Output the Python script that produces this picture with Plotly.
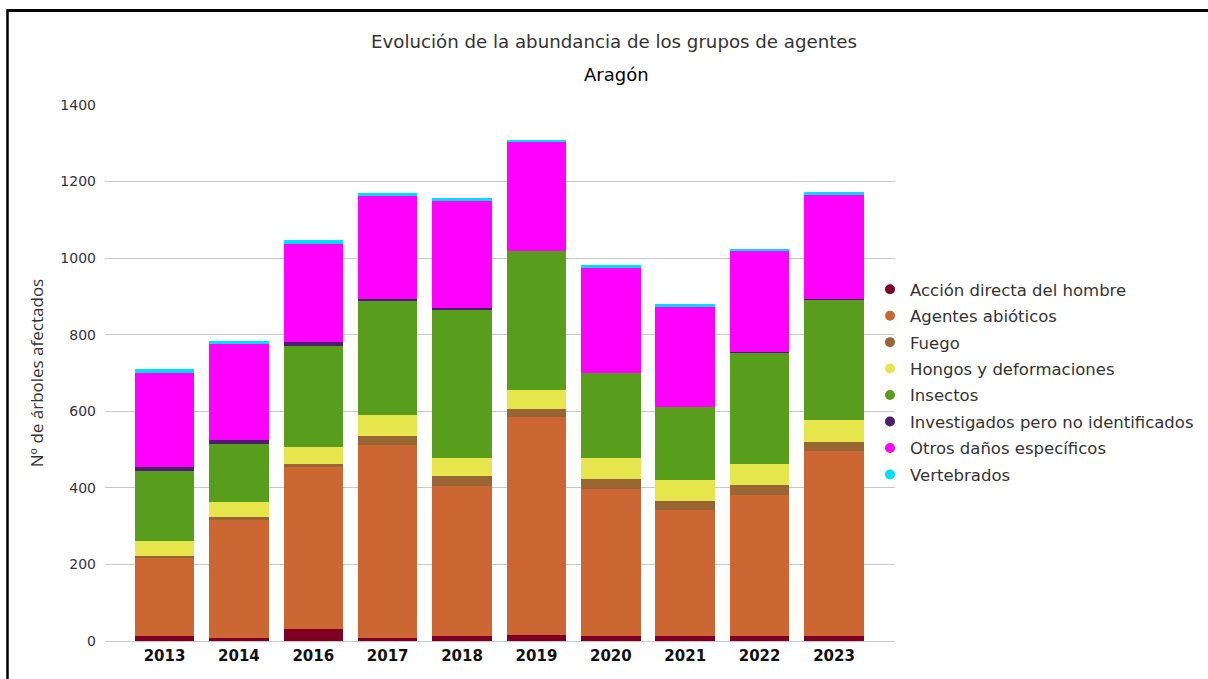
import plotly.graph_objects as go

years = ["2013", "2014", "2016", "2017", "2018", "2019", "2020", "2021", "2022", "2023"]

accion_directa = [14, 8, 31, 8, 14, 16, 14, 14, 14, 14]
agentes_abioticos = [203, 309, 424, 505, 392, 568, 384, 328, 367, 481]
fuego = [5, 7, 7, 23, 25, 23, 25, 24, 26, 26]
hongos = [38, 38, 44, 54, 47, 49, 55, 54, 56, 56]
insectos = [184, 153, 264, 299, 389, 362, 221, 190, 290, 314]
investigados = [10, 10, 10, 3, 3, 0, 0, 0, 2, 2]
otros_danos = [245, 250, 258, 270, 280, 286, 276, 262, 264, 272]
vertebrados = [11, 8, 9, 9, 6, 5, 7, 9, 5, 9]

series_names = [
    "Acción directa del hombre",
    "Agentes abióticos",
    "Fuego",
    "Hongos y deformaciones",
    "Insectos",
    "Investigados pero no identificados",
    "Otros daños específicos",
    "Vertebrados",
]
series_values = [accion_directa, agentes_abioticos, fuego, hongos, insectos,
                 investigados, otros_danos, vertebrados]
series_colors = ["#7d0022", "#cc6633", "#996633", "#e6e64c", "#589e1c",
                 "#4b1f6f", "#ff00ff", "#00ddff"]

title_text = "Evolución de la abundancia de los grupos de agentes"
subtitle_text = "Aragón"
y_title = "Nº de árboles afectados"
y_ticks = [0, 200, 400, 600, 800, 1000, 1200, 1400]

# layout geometry (pixels)
W, H = 1208, 679
L, R, T, B = 105, 895, 105, 641
pw, ph = R - L, B - T


def px_x(x):
    return (x - L) / pw


def px_y(y):
    return (B - y) / ph


fig = go.Figure()

for name, vals, col in zip(series_names, series_values, series_colors):
    fig.add_trace(go.Bar(
        x=years, y=vals, name=name, marker=dict(color=col, line=dict(width=0)),
        showlegend=False, legendgroup=name,
    ))

for name, col in zip(series_names, series_colors):
    fig.add_trace(go.Scatter(
        x=[None], y=[None], mode="markers", name=name, legendgroup=name,
        marker=dict(color=col, size=10, symbol="circle"), showlegend=True,
    ))

fig.update_layout(
    width=W, height=H,
    margin=dict(l=L, r=W - R, t=T, b=H - B, pad=0, autoexpand=False),
    barmode="stack",
    bargap=0.2,
    plot_bgcolor="white",
    paper_bgcolor="white",
    font=dict(family="DejaVu Sans", color="#333333"),
    showlegend=True,
    legend=dict(
        x=px_x(870), xanchor="left",
        y=px_y(272), yanchor="top",
        font=dict(family="DejaVu Sans", size=16.5, color="#333333"),
        tracegroupgap=2,
        bgcolor="rgba(0,0,0,0)",
    ),
    xaxis=dict(
        type="category",
        range=[-0.8, 9.82],
        showgrid=False,
        ticks="",
        showline=False,
        ticklabelstandoff=4,
        tickfont=dict(family="DejaVu Sans", size=15, color="#111111", weight="bold"),
    ),
    yaxis=dict(
        range=[0, 1400],
        tickvals=y_ticks,
        showgrid=True,
        gridcolor="#c8c8c8",
        gridwidth=1,
        zeroline=True,
        zerolinecolor="#c8c8c8",
        zerolinewidth=1,
        ticks="",
        ticklabelstandoff=8,
        tickfont=dict(family="DejaVu Sans", size=14, color="#333344"),
        title=dict(text=y_title, font=dict(family="Open Sans", size=17, color="#333333"),
                   standoff=12),
    ),
    annotations=[
        dict(text=title_text, xref="paper", yref="paper", x=px_x(614), y=px_y(42),
             xanchor="center", yanchor="middle", showarrow=False,
             font=dict(family="DejaVu Sans", size=18.2, color="#333333")),
        dict(text=subtitle_text, xref="paper", yref="paper", x=px_x(616), y=px_y(74),
             xanchor="center", yanchor="middle", showarrow=False,
             font=dict(family="DejaVu Sans", size=18, color="#000000")),
    ],
    shapes=[
        dict(type="line", xref="paper", yref="paper",
             x0=px_x(7.5), x1=px_x(1220), y0=px_y(10.5), y1=px_y(10.5),
             line=dict(color="black", width=3)),
        dict(type="line", xref="paper", yref="paper",
             x0=px_x(7.5), x1=px_x(7.5), y0=px_y(9), y1=px_y(700),
             line=dict(color="black", width=2.5)),
    ],
)

fig.write_html("out.html", config={"displayModeBar": False},
               post_script="document.body.style.margin='0';")
